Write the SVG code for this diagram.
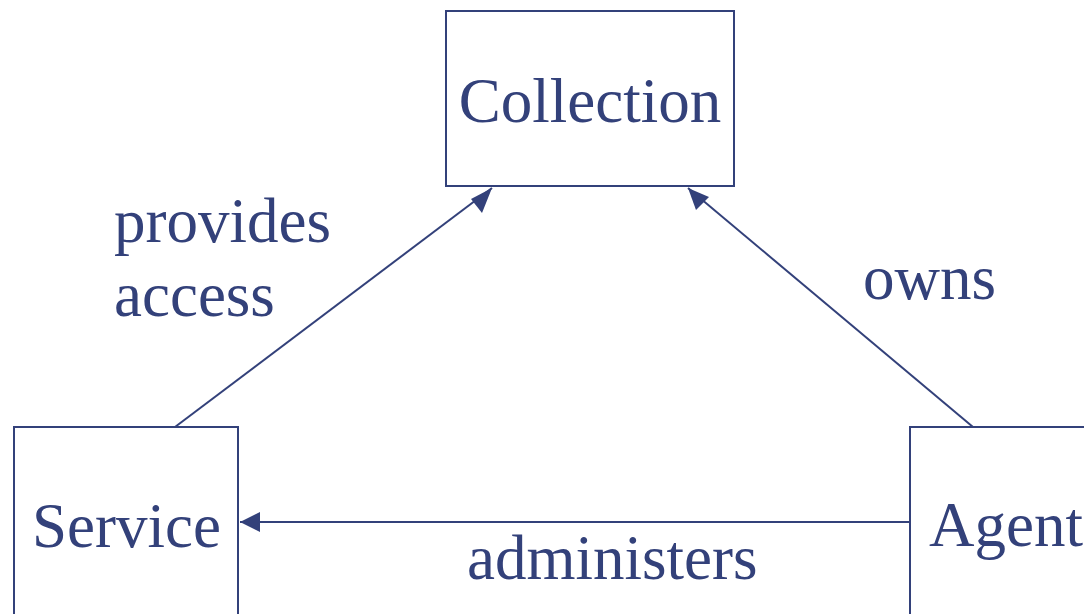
<svg xmlns="http://www.w3.org/2000/svg" width="1084" height="614" viewBox="0 0 1084 614">
<style>
.box{fill:#fff;stroke:#33417a;stroke-width:2}
.lbl{font-family:"Liberation Serif","Times New Roman",serif;font-size:63px;fill:#33417a}
.ln{stroke:#33417a;stroke-width:2;fill:none;marker-end:url(#ah)}
</style>
<defs>
<marker id="ah" markerWidth="12" markerHeight="10" refX="11" refY="5" orient="auto" markerUnits="userSpaceOnUse" viewBox="0 0 12 10">
<path d="M0,0 L12,5 L0,10 Z" fill="#33417a"/>
</marker>
</defs>
<rect width="1084" height="614" fill="#fff"/>
<g id="connectors">
<line class="ln" x1="175" y1="427" x2="492" y2="188" style="marker-end:none"/>
<polygon points="492,188 471,199 482,213" fill="#33417a"/>
<line class="ln" x1="973" y1="427" x2="688" y2="188" style="marker-end:none"/>
<polygon points="688,188 696,210 709,197" fill="#33417a"/>
<line class="ln" x1="910" y1="522" x2="240" y2="522" style="marker-end:none"/>
<polygon points="240,522 260,512 260,532" fill="#33417a"/>
<text class="lbl" x="114" y="242">provides</text>
<text class="lbl" x="114" y="316">access</text>
<text class="lbl" x="863" y="299">owns</text>
<text class="lbl" x="467" y="579">administers</text>
</g>
<g id="collection">
<rect class="box" x="446" y="11" width="288" height="175"/>
<text class="lbl" x="590" y="122" text-anchor="middle">Collection</text>
</g>
<g id="service">
<rect class="box" x="14" y="427" width="224" height="200"/>
<text class="lbl" x="32" y="547">Service</text>
</g>
<g id="agent">
<rect class="box" x="910" y="427" width="200" height="200"/>
<text class="lbl" x="929" y="546">Agent</text>
</g>
</svg>
